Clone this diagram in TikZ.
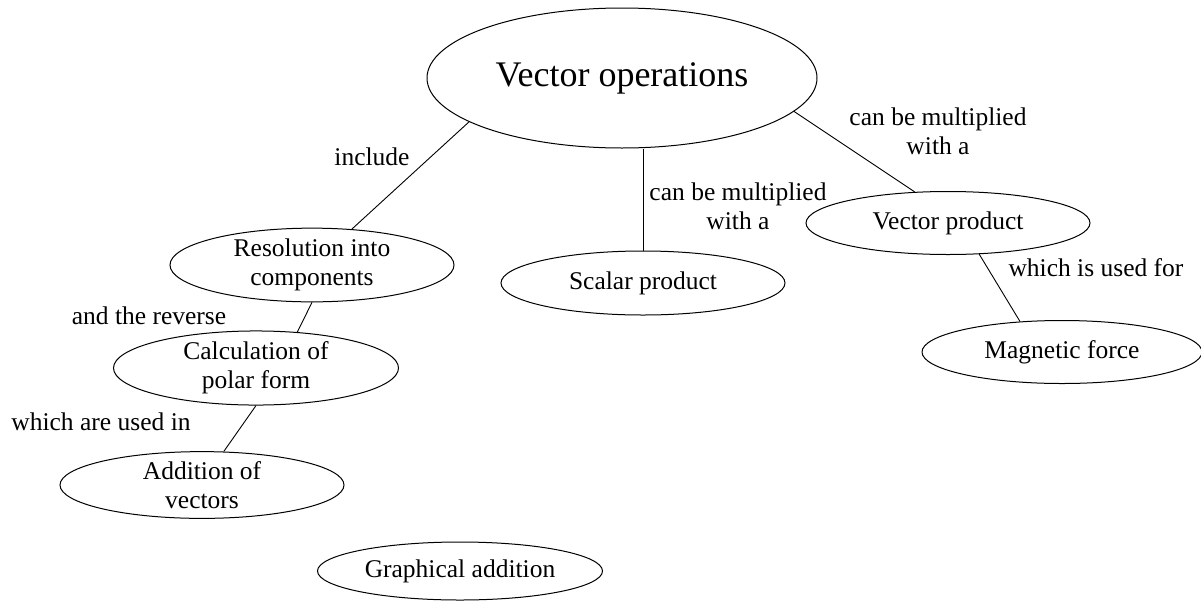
\documentclass[tikz,border=0pt]{standalone}
\usepackage{fontspec}
\setmainfont{Liberation Serif}
\usetikzlibrary{shapes.geometric}
\tikzset{
  concept/.style={ellipse, draw, line width=1pt, inner sep=0pt, align=center,
    font=\fontsize{25.5}{29}\selectfont},
  link/.style={draw, line width=0.9pt},
  lbl/.style={inner sep=0pt, align=center, font=\fontsize{25.5}{29}\selectfont}
}
\begin{document}
\begin{tikzpicture}[x=1pt,y=-1pt]
\useasboundingbox (0,0) rectangle (1201,600);
\node[concept, minimum width=390pt, minimum height=140pt, font=\fontsize{36}{40}\selectfont] (vo) at (622,78) {Vector operations};
\node[concept, minimum width=284pt, minimum height=64pt] (res) at (312,265) {Resolution into\\components};
\node[concept, minimum width=285pt, minimum height=62pt] (calc) at (256,368) {Calculation of\\polar form};
\node[concept, minimum width=284pt, minimum height=64pt] (add) at (202,485) {Addition of\\vectors};
\node[concept, minimum width=285pt, minimum height=58pt] (gra) at (460,571) {Graphical addition};
\node[concept, minimum width=284pt, minimum height=64pt] (sc) at (643,283) {Scalar product};
\node[concept, minimum width=284pt, minimum height=63pt] (vp) at (948,223) {Vector product};
\node[concept, minimum width=280pt, minimum height=63pt] (mf) at (1062,352) {Magnetic force};

\draw[link] (vo.196) -- (res.42);
\draw[link] (sc.north) -- (sc.north |- vo.south);
\draw[link] (vo.349) -- (vp.137);
\draw[link] (vp.315) -- (mf.144);
\draw[link] (res.south) -- (calc.41);
\draw[link] (calc.south) -- (add.57);

\node[lbl] (l1) at (372,157) {include};
\node[lbl] (l2) at (738,206) {can be multiplied\\with a};
\node[lbl] (l3) at (938,131) {can be multiplied\\with a};
\node[lbl] (l4) at (1096,268) {which is used for};
\node[lbl] (l5) at (149,316) {and the reverse};
\node[lbl] (l6) at (101,422) {which are used in};
\end{tikzpicture}
\end{document}
